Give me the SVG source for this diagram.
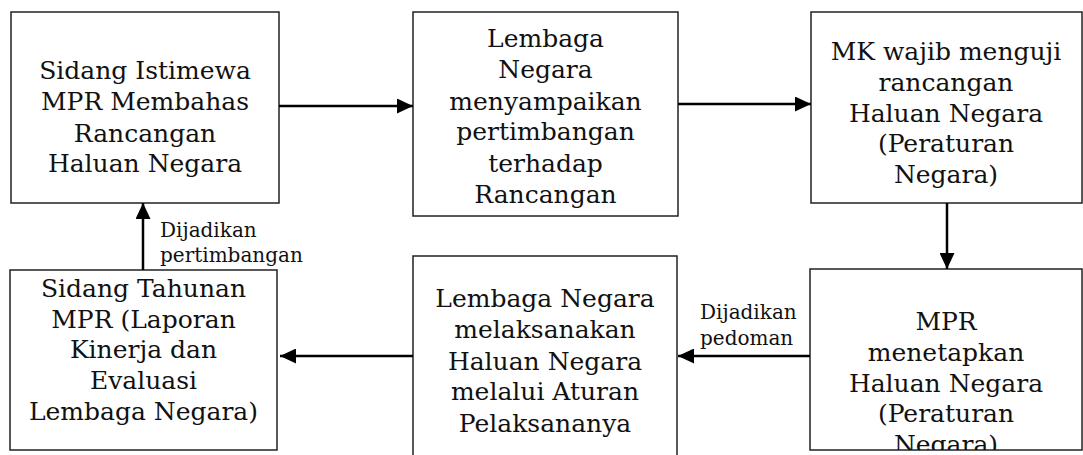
<svg xmlns="http://www.w3.org/2000/svg" width="1083" height="455" viewBox="0 0 1083 455">
<style>
.box{fill:#fff;stroke:#222;stroke-width:1.5}
.t{font-family:"DejaVu Serif",serif;font-size:25px;fill:#111;text-anchor:middle}
.lbl{font-family:"DejaVu Serif",serif;font-size:20px;fill:#111}
.c{stroke:#000;stroke-width:2.5;fill:none;marker-end:url(#ah)}
</style>
<defs>
<marker id="ah" markerUnits="userSpaceOnUse" markerWidth="16" markerHeight="15" refX="16" refY="7.5" orient="auto">
<path d="M0,0 L16,7.5 L0,15 z" fill="#000"/>
</marker>
<clipPath id="cb4"><rect x="810" y="269" width="272" height="181"/></clipPath>
</defs>
<rect width="1083" height="455" fill="#fff"/>
<g id="n1">
<rect class="box" x="11" y="12" width="268" height="191"/>
<text class="t"><tspan x="145" y="79">Sidang Istimewa</tspan><tspan x="145" y="110">MPR Membahas</tspan><tspan x="145" y="142">Rancangan</tspan><tspan x="145" y="172">Haluan Negara</tspan></text>
</g>
<g id="n2">
<rect class="box" x="413" y="12" width="265" height="204"/>
<text class="t"><tspan x="545.5" y="47">Lembaga</tspan><tspan x="545.5" y="78">Negara</tspan><tspan x="545.5" y="110">menyampaikan</tspan><tspan x="545.5" y="140">pertimbangan</tspan><tspan x="545.5" y="172">terhadap</tspan><tspan x="545.5" y="203">Rancangan</tspan></text>
</g>
<g id="n3">
<rect class="box" x="811" y="12" width="271" height="191"/>
<text class="t"><tspan x="946" y="60">MK wajib menguji</tspan><tspan x="946" y="91">rancangan</tspan><tspan x="946" y="122">Haluan Negara</tspan><tspan x="946" y="152">(Peraturan</tspan><tspan x="946" y="183">Negara)</tspan></text>
</g>
<g id="n4">
<rect class="box" x="810" y="269" width="272" height="181"/>
<text class="t" clip-path="url(#cb4)"><tspan x="946" y="330">MPR</tspan><tspan x="946" y="361">menetapkan</tspan><tspan x="946" y="392">Haluan Negara</tspan><tspan x="946" y="422">(Peraturan</tspan><tspan x="946" y="453">Negara)</tspan></text>
</g>
<g id="n5">
<rect class="box" x="413" y="256" width="264" height="210"/>
<text class="t"><tspan x="545" y="307">Lembaga Negara</tspan><tspan x="545" y="338">melaksanakan</tspan><tspan x="545" y="370">Haluan Negara</tspan><tspan x="545" y="400">melalui Aturan</tspan><tspan x="545" y="432">Pelaksananya</tspan></text>
</g>
<g id="n6">
<rect class="box" x="10" y="270" width="267" height="180"/>
<text class="t"><tspan x="143.5" y="297">Sidang Tahunan</tspan><tspan x="143.5" y="328">MPR (Laporan</tspan><tspan x="143.5" y="358">Kinerja dan</tspan><tspan x="143.5" y="389">Evaluasi</tspan><tspan x="143.5" y="420">Lembaga Negara)</tspan></text>
</g>
<g id="connectors">
<line class="c" x1="279" y1="106" x2="413" y2="106"/>
<line class="c" x1="678" y1="104" x2="811" y2="104"/>
<line class="c" x1="947" y1="203" x2="947" y2="269"/>
<line class="c" x1="810" y1="356" x2="678" y2="356"/>
<line class="c" x1="413" y1="356" x2="280" y2="356"/>
<line class="c" x1="143" y1="270" x2="143" y2="203"/>
<text class="lbl"><tspan x="160" y="237">Dijadikan</tspan><tspan x="160" y="262">pertimbangan</tspan></text>
<text class="lbl"><tspan x="700" y="319">Dijadikan</tspan><tspan x="700" y="345">pedoman</tspan></text>
</g>
</svg>
